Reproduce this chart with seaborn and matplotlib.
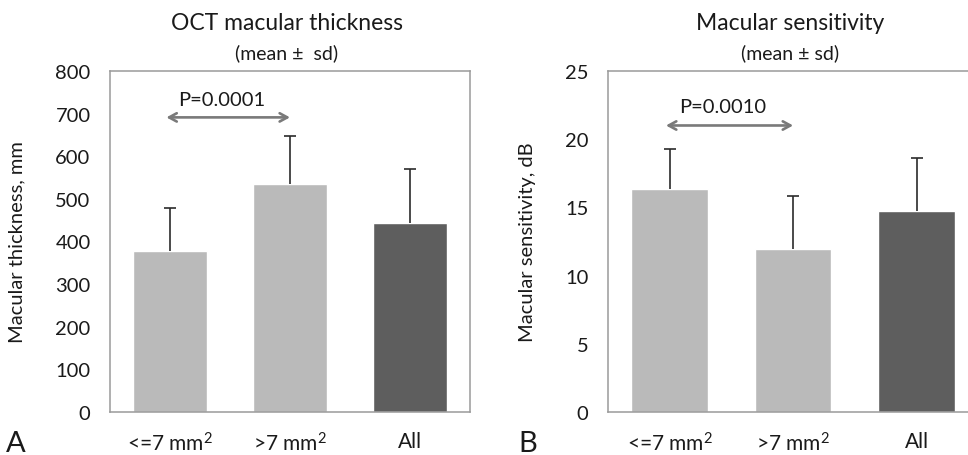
import matplotlib
matplotlib.use('Agg')
import matplotlib.pyplot as plt
import numpy as np
import pandas as pd
import seaborn as sns

sns.set_style('white')
plt.rcParams['font.family'] = ['Lato', 'DejaVu Sans']
plt.rcParams['mathtext.fontset'] = 'custom'
plt.rcParams['mathtext.rm'] = 'Lato'
plt.rcParams['mathtext.default'] = 'regular'

# Data
groups = ['<=7 mm$^2$', '>7 mm$^2$', 'All']
thickness_mean = [377, 535, 443]
thickness_sd = [101, 112, 127]
sensitivity_mean = [16.35, 11.95, 14.75]
sensitivity_sd = [2.9, 3.85, 3.85]

bar_colors = {groups[0]: '#BABABA', groups[1]: '#BABABA', groups[2]: '#5E5E5E'}
frame_color = '#9A9A9A'
text_color = '#1A1A1A'

fig = plt.figure(figsize=(9.68, 4.56), dpi=100)
fig.patch.set_facecolor('white')
ax_a = fig.add_axes([0.1136, 0.0943, 0.372, 0.748])
ax_b = fig.add_axes([0.628, 0.0943, 0.3827, 0.748])


def draw_panel(ax, means, sds, ylim, yticks, ylabel, label_x, p_text, arrow_y, p_y):
    df = pd.DataFrame({'group': groups, 'value': means})
    sns.barplot(data=df, x='group', y='value', hue='group', palette=bar_colors,
                order=groups, width=0.62, errorbar=None, legend=False,
                saturation=1, ax=ax)
    # upper-only error bars
    _, caps, _ = ax.errorbar(np.arange(len(groups)), means,
                             yerr=[np.zeros(len(sds)), sds],
                             fmt='none', ecolor='#2B2B2B', elinewidth=1.2,
                             capsize=4, capthick=1.2, zorder=1)
    caps[0].set_visible(False)
    ax.set_xlim(-0.5, 2.5)
    ax.set_ylim(*ylim)
    ax.set_yticks(yticks)
    ax.set_xlabel('')
    ax.set_ylabel(ylabel, fontsize=14.5, color=text_color)
    ax.yaxis.set_label_coords(label_x, 0.5)
    ax.tick_params(axis='both', length=0, colors=text_color)
    ax.tick_params(axis='y', pad=14, labelsize=14.5)
    ax.tick_params(axis='x', pad=14, labelsize=15)
    for side in ['left', 'top', 'right', 'bottom']:
        ax.spines[side].set_visible(True)
        ax.spines[side].set_color(frame_color)
        ax.spines[side].set_linewidth(1.1)
    # significance arrow
    ax.annotate('', xy=(1.0, arrow_y), xytext=(-0.03, arrow_y),
                arrowprops=dict(arrowstyle='<->,head_length=0.55,head_width=0.3',
                                color='#7A7A7A', lw=1.9, shrinkA=0, shrinkB=0))
    ax.text(0.43, p_y, p_text, ha='center', va='center', fontsize=14.5,
            color=text_color)


draw_panel(ax_a, thickness_mean, thickness_sd, (0, 800), range(0, 801, 100),
           'Macular thickness, mm', -0.235, 'P=0.0001', 691, 734)
draw_panel(ax_b, sensitivity_mean, sensitivity_sd, (0, 25), range(0, 26, 5),
           'Macular sensitivity, dB', -0.195, 'P=0.0010', 21.0, 22.4)

# Titles
fig.text(0.296, 0.948, 'OCT macular thickness', ha='center', va='center',
         fontsize=16.5, color=text_color)
fig.text(0.296, 0.884, '(mean \u00b1  sd)', ha='center', va='center',
         fontsize=14, color=text_color)
fig.text(0.816, 0.948, 'Macular sensitivity', ha='center', va='center',
         fontsize=16.5, color=text_color)
fig.text(0.816, 0.884, '(mean \u00b1 sd)', ha='center', va='center',
         fontsize=14, color=text_color)

# Panel letters
fig.text(0.006, 0.008, 'A', fontsize=21, color=text_color, va='baseline')
fig.text(0.535, 0.008, 'B', fontsize=21, color=text_color, va='baseline')

fig.savefig('out.png', dpi=100, facecolor='white')
plt.close(fig)
